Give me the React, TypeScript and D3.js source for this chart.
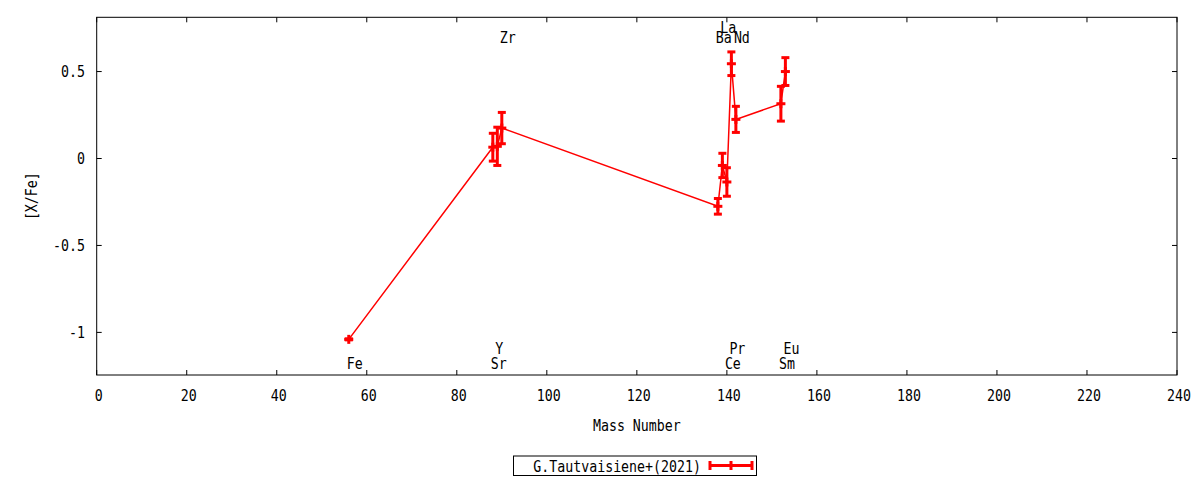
import * as d3 from "d3";

// [X/Fe] per element, plotted against mass number
const elements = ["Fe", "Sr", "Y", "Zr", "Ba", "La", "Ce", "Pr", "Nd", "Sm", "Eu"];
const massNumbers = [56, 88, 89, 90, 138, 139, 140, 141, 142, 152, 153];
const xFe = [-1.04, 0.065, 0.07, 0.175, -0.275, -0.04, -0.135, 0.545, 0.225, 0.315, 0.5];
const xFeErr = [0.003, 0.08, 0.11, 0.09, 0.045, 0.07, 0.082, 0.068, 0.075, 0.1, 0.08];
// label rows: 0 = bottom, 1 = just above bottom, 2 = top, 3 = above top
const labelRow = [0, 0, 1, 2, 2, 3, 0, 1, 2, 0, 1];
const labelRowY = [-1.175, -1.09, 0.7, 0.755];

const xTicks = d3.range(0, 241, 20);
const yTicks = [-1, -0.5, 0, 0.5];
const yTickLabels = ["-1", "-0.5", "0", "0.5"];
const legendLabel = "G.Tautvaisiene+(2021)";

const RED = "#ff0000";
const FONT = "DejaVu Sans Mono";

function Label({
  x,
  y,
  anchor = "start",
  rotate,
  children,
}: {
  x: number;
  y: number;
  anchor?: string;
  rotate?: number;
  children: React.ReactNode;
}) {
  const rot = rotate ? ` rotate(${rotate})` : "";
  return (
    <text
      transform={`translate(${x},${y})${rot} scale(0.83,1)`}
      fontSize={16}
      fontFamily={FONT}
      textAnchor={anchor}
      fill="#000"
    >
      {children}
    </text>
  );
}

function ErrorPoint({ cx, cy, top, bottom }: { cx: number; cy: number; top: number; bottom: number }) {
  return (
    <g stroke={RED} strokeWidth={3} fill="none">
      <line x1={cx} x2={cx} y1={top} y2={bottom} />
      <line x1={cx - 4} x2={cx + 4} y1={top} y2={top} />
      <line x1={cx - 4} x2={cx + 4} y1={bottom} y2={bottom} />
      <line x1={cx - 4.5} x2={cx + 4.5} y1={cy} y2={cy} />
      <line x1={cx} x2={cx} y1={cy - 4.5} y2={cy + 4.5} />
    </g>
  );
}

export default function App() {
  const width = 1200;
  const height = 480;
  const left = 96.7;
  const right = 1177;
  const top = 17.3;
  const bottom = 375;

  const x = d3.scaleLinear().domain([0, 240]).range([left, right]);
  const y = d3.scaleLinear().domain([-1.245, 0.812]).range([bottom, top]);

  const line = d3
    .line<number>()
    .x((_, i) => x(massNumbers[i]))
    .y((d) => y(d));

  const baseline = 5.8; // shift from vertical centre to text baseline
  const tick = 5;

  return (
    <svg
      width={width}
      height={height}
      style={{ position: "absolute", left: 0, top: 0, background: "#fff" }}
    >
      <rect x={0} y={0} width={width} height={height} fill="#fff" />

      {/* ticks, mirrored on all four sides */}
      <g stroke="#000" strokeWidth={1}>
        {xTicks.map((t) => (
          <g key={`xt${t}`}>
            <line x1={x(t)} x2={x(t)} y1={bottom} y2={bottom - tick} />
            <line x1={x(t)} x2={x(t)} y1={top} y2={top + tick} />
          </g>
        ))}
        {yTicks.map((t) => (
          <g key={`yt${t}`}>
            <line x1={left} x2={left + tick} y1={y(t)} y2={y(t)} />
            <line x1={right} x2={right - tick} y1={y(t)} y2={y(t)} />
          </g>
        ))}
      </g>

      {xTicks.map((t) => (
        <Label key={`xl${t}`} x={x(t) + 2} y={395 + baseline} anchor="middle">
          {String(t)}
        </Label>
      ))}
      {yTicks.map((t, i) => (
        <Label key={`yl${t}`} x={85} y={y(t) + baseline} anchor="end">
          {yTickLabels[i]}
        </Label>
      ))}

      <Label x={(left + right) / 2} y={425 + baseline} anchor="middle">
        Mass Number
      </Label>
      <Label x={31 + baseline} y={(top + bottom) / 2} anchor="middle" rotate={-90}>
        [X/Fe]
      </Label>

      {/* element names */}
      {elements.map((el, i) => (
        <Label key={`el${el}`} x={x(massNumbers[i]) - 2} y={y(labelRowY[labelRow[i]]) + baseline}>
          {el}
        </Label>
      ))}

      {/* connecting line and error bars */}
      <path d={line(xFe) ?? ""} fill="none" stroke={RED} strokeWidth={1.5} />
      {xFe.map((v, i) => (
        <ErrorPoint
          key={`p${i}`}
          cx={x(massNumbers[i])}
          cy={y(v)}
          top={y(v + xFeErr[i])}
          bottom={y(v - xFeErr[i])}
        />
      ))}

      <rect
        x={left}
        y={top}
        width={right - left}
        height={bottom - top}
        fill="none"
        stroke="#000"
        strokeWidth={1}
      />

      {/* legend */}
      <rect x={513.5} y={456} width={243} height={19.5} fill="none" stroke="#000" strokeWidth={1} />
      <Label x={701} y={466 + baseline} anchor="end">
        {legendLabel}
      </Label>
      <g stroke={RED} strokeWidth={3}>
        <line x1={710} x2={752} y1={465.5} y2={465.5} />
        <line x1={710} x2={710} y1={461} y2={470} />
        <line x1={752} x2={752} y1={461} y2={470} />
        <line x1={731} x2={731} y1={461} y2={470} />
      </g>
    </svg>
  );
}
